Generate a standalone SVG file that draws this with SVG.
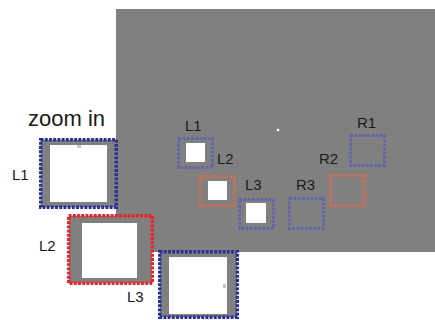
<svg xmlns="http://www.w3.org/2000/svg" width="435" height="320" viewBox="0 0 435 320">
<style>
.lbl{font-family:"Liberation Sans",Arial,sans-serif;font-size:15px;fill:#1a1a1a}
.big{fill:#808080;stroke-width:3.4;stroke-dasharray:2.8 1.4}
.blue{stroke:#2a2e98}
.red{stroke:#ee2028}
.sm{fill:none;stroke-width:3;stroke-dasharray:2.8 1.4}
.sblue{stroke:#6365a8}
.sorange{stroke:#cc6e56}
.w{fill:#ffffff}
</style>
<rect x="0" y="0" width="435" height="320" fill="#ffffff"/>
<rect id="scene" x="116" y="9" width="319" height="243" fill="#808080"/>
<circle cx="278" cy="130" r="1.3" fill="#ffffff"/>
<text x="28" y="126" style="font-family:'Liberation Sans',Arial,sans-serif;font-size:22px;fill:#1a1a1a">zoom in</text>
<g id="smallL1">
<rect class="w" x="186" y="143" width="19" height="19"/>
<rect class="sm sblue" x="178.5" y="138.5" width="34" height="29"/>
<text class="lbl" x="185" y="131">L1</text>
</g>
<g id="smallL2">
<rect class="w" x="208" y="181" width="19" height="19"/>
<rect class="sm sorange" x="200.5" y="176.5" width="34" height="29"/>
<text class="lbl" x="217" y="164">L2</text>
</g>
<g id="smallL3">
<rect class="w" x="246" y="203" width="20" height="20"/>
<rect class="sm sblue" x="239.5" y="199.5" width="34" height="29"/>
<text class="lbl" x="245" y="190">L3</text>
</g>
<g id="R1">
<rect class="sm sblue" x="350.5" y="135.5" width="34" height="30"/>
<text class="lbl" x="357" y="128">R1</text>
</g>
<g id="R2">
<rect class="sm sorange" x="330.5" y="175.5" width="34" height="30"/>
<text class="lbl" x="319" y="164">R2</text>
</g>
<g id="R3">
<rect class="sm sblue" x="289.5" y="198.5" width="34" height="30"/>
<text class="lbl" x="296" y="190">R3</text>
</g>
<g id="bigL1">
<rect class="big blue" x="40.7" y="139.7" width="75.6" height="67.6"/>
<rect class="w" x="50" y="145" width="57" height="57"/>
<rect x="77" y="145" width="4" height="3" fill="#c4c4c4"/>
<text class="lbl" x="12" y="180">L1</text>
</g>
<g id="bigL2">
<rect class="big red" x="68.7" y="215.7" width="83.6" height="67.6"/>
<rect class="w" x="82" y="223" width="55" height="55"/>
<text class="lbl" x="39" y="251">L2</text>
</g>
<g id="bigL3">
<rect class="big blue" x="159.7" y="251.7" width="77.6" height="65.6"/>
<rect class="w" x="169" y="257" width="58" height="57"/>
<rect x="223" y="284" width="3" height="4" fill="#c4c4c4"/>
<text class="lbl" x="127" y="302">L3</text>
</g>
<g id="connectors"></g>
</svg>
